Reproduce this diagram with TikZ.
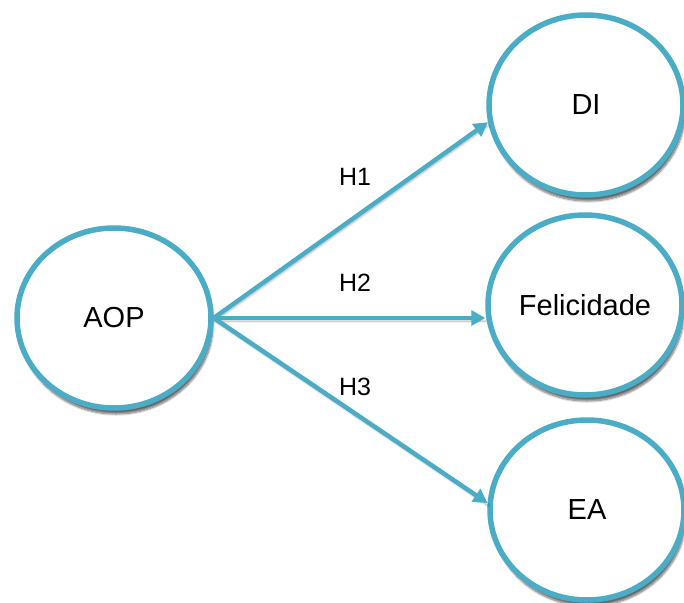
\documentclass[tikz,border=0pt]{standalone}
\usepackage{fontspec}
\setmainfont{Liberation Sans}
\usetikzlibrary{shapes.geometric, arrows.meta, shadows.blur}
\definecolor{aqua}{HTML}{4BACC6}
\tikzset{
  construct/.style={ellipse, draw=aqua, line width=5.5pt, fill=white,
    minimum width=194pt, minimum height=180pt, inner sep=0pt,
    font=\fontsize{29}{31}\selectfont,
    blur shadow={shadow xshift=2pt, shadow yshift=-6pt, shadow blur steps=10, shadow opacity=60}},
  path/.style={draw=aqua, line width=4.5pt, -{Triangle[length=14pt,width=15pt]},
    blur shadow={shadow xshift=1pt, shadow yshift=-3pt, shadow blur steps=4, shadow opacity=35}},
  hlabel/.style={font=\fontsize{25}{27}\selectfont}
}
\begin{document}
\begin{tikzpicture}[x=1pt,y=-1pt]
    \useasboundingbox (0,0) rectangle (684,602);
    \node[construct] (aop) at (114,318) {AOP};
    \node[construct] (di) at (586,105) {DI};
    \node[construct] (fel) at (585,305) {Felicidade};
    \node[construct] (ea) at (587,510) {EA};
    \draw[path] (aop.east) -- (di.190);
    \draw[path] (aop.east) -- (aop.east -| fel.west);
    \draw[path] (aop.east) -- (ea.176);
    \node[hlabel] (h1) at (355,177) {H1};
    \node[hlabel] (h2) at (355,283) {H2};
    \node[hlabel] (h3) at (355,387) {H3};
\end{tikzpicture}
\end{document}
